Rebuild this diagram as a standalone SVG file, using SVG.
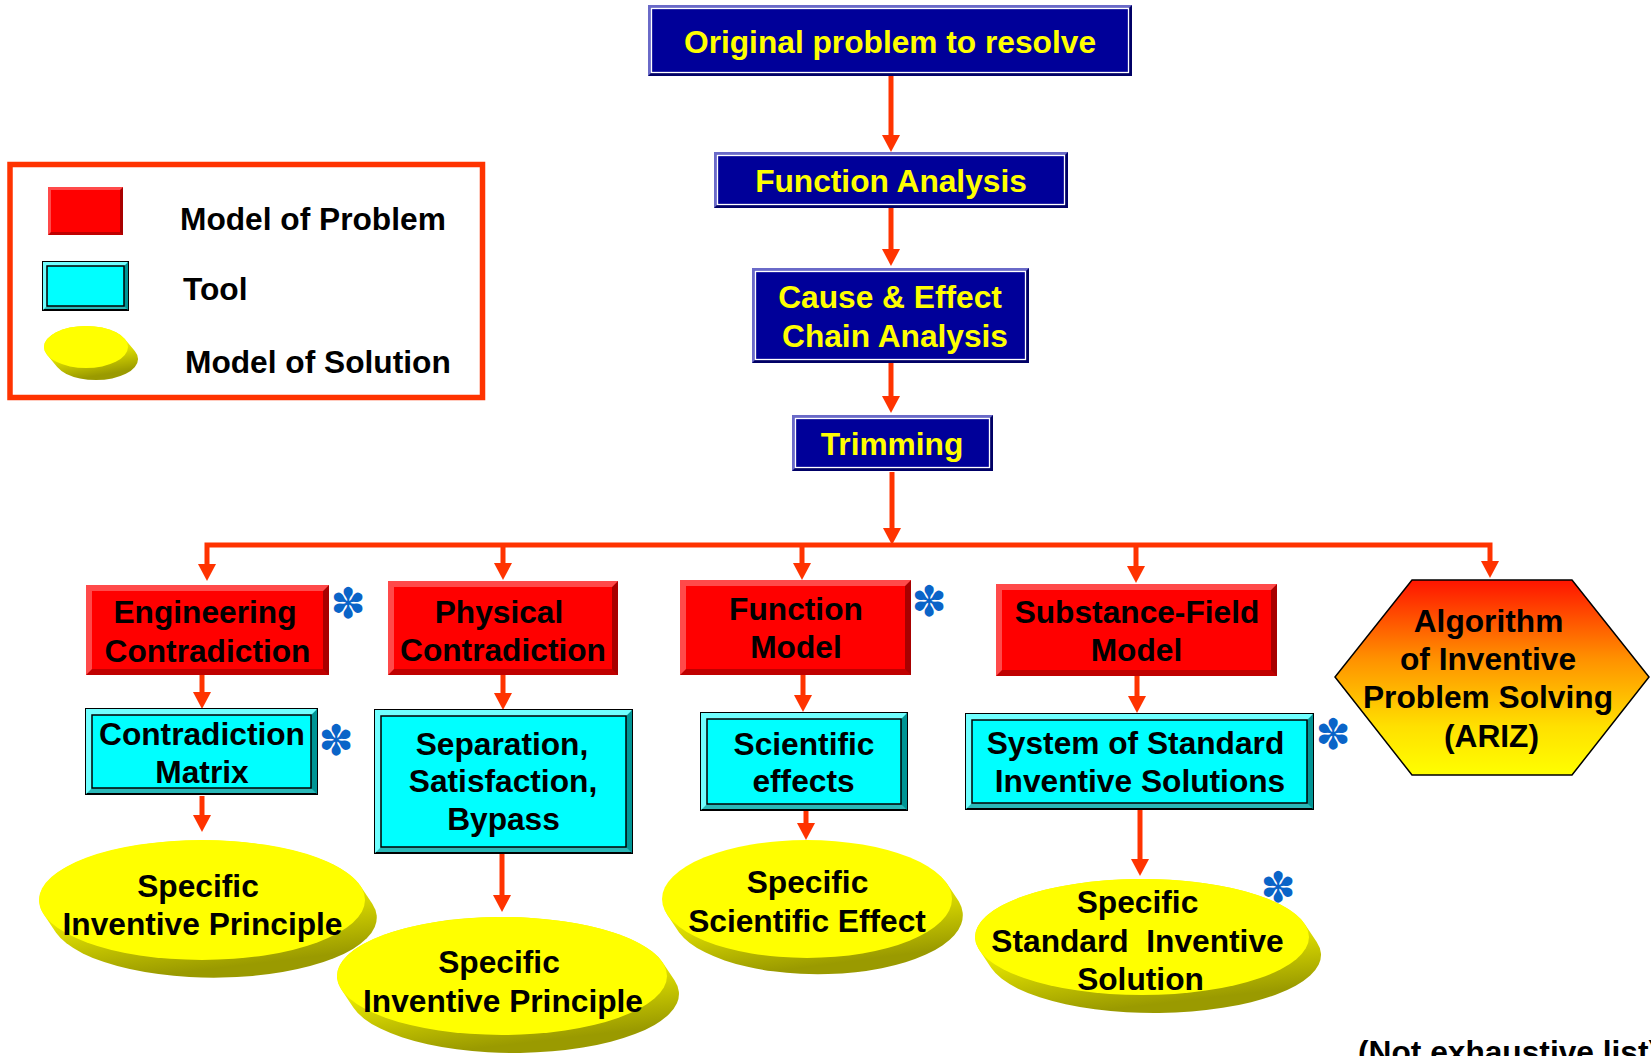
<svg xmlns="http://www.w3.org/2000/svg" width="1651" height="1056" viewBox="0 0 1651 1056">
<defs>
<style>
.t{font-family:"Liberation Sans",Arial,sans-serif;font-weight:bold;font-size:31.7px;text-anchor:middle}
.ty{fill:#ffff00}
.tk{fill:#000000}
.ls{text-anchor:start}
.ast{font-family:"DejaVu Sans",sans-serif;font-size:42px;fill:#0a64c8;text-anchor:middle}
.con{fill:none;stroke:#ff3300;stroke-width:5;marker-end:url(#ah)}
.bbase{fill:#000066}
.blight{fill:#6a6ac8}
.bin{fill:#000099;stroke:#ffffff;stroke-width:1.3}
.rbase{fill:#c00000}
.rright{fill:#a80000}
.rlight{fill:#ff4a4a}
.rin{fill:#ff0000}
.cbase{fill:#2ab8b8;stroke:#000;stroke-width:2}
.cright{fill:#009595}
.clight{fill:#70ffff}
.cin{fill:#00ffff;stroke:#000;stroke-width:1.5}
.ext{fill:url(#gExt)}
.top{fill:#ffff00}
</style>
<marker id="ah" viewBox="0 0 17 18" markerWidth="17" markerHeight="18" refX="5" refY="9" orient="auto-start-reverse" markerUnits="userSpaceOnUse">
<path d="M0,0 L17,9 L0,18 Z" fill="#ff3300"/>
</marker>
<linearGradient id="gExt" x1="0" y1="0" x2="0.3" y2="1">
<stop offset="0.5" stop-color="#f2f200"/>
<stop offset="1" stop-color="#9a9a00"/>
</linearGradient>
<linearGradient id="gHex" x1="0" y1="0" x2="0" y2="1">
<stop offset="0" stop-color="#ff1400"/>
<stop offset="0.4" stop-color="#ff9000"/>
<stop offset="0.75" stop-color="#ffe000"/>
<stop offset="1" stop-color="#ffff00"/>
</linearGradient>
</defs>
<rect width="1651" height="1056" fill="#ffffff"/>

<!-- Legend -->
<g id="legend">
<rect x="10" y="164.5" width="472.5" height="233" fill="none" stroke="#ff3300" stroke-width="5.5"/>
<rect class="rbase" x="48" y="187" width="75" height="48"/>
<polygon class="rright" points="123,187 123,235 120,232 120,190"/>
<polygon class="rlight" points="48,187 123,187 120,190 51,190 51,232 48,235"/>
<rect class="rin" x="51" y="190" width="69" height="42"/>
<rect class="cbase" x="43" y="262" width="85" height="48"/>
<polygon class="cright" points="128,262 128,310 124,306 124,266"/>
<polygon class="clight" points="43,262 128,262 124,266 47,266 47,306 43,310"/>
<rect class="cin" x="47" y="266" width="77" height="40"/>
<path class="ext" d="M124.8,338.9 L134.8,350.9 A42,21 0 0 1 57.2,367.1 L47.2,355.1 A42,21 0 0 1 124.8,338.9 Z"/>
<ellipse class="top" cx="86" cy="347" rx="42" ry="21"/>
<text class="t tk ls" x="180" y="230">Model of Problem</text>
<text class="t tk ls" x="183" y="300">Tool</text>
<text class="t tk ls" x="185" y="373">Model of Solution</text>
</g>

<!-- Connectors -->
<g id="connectors">
<path class="con" d="M891,76 V140"/>
<path class="con" d="M891,208 V254"/>
<path class="con" d="M891,363 V401"/>
<path class="con" d="M892,472 V533"/>
<path class="con" d="M207,569 V545 H1490 V566" style="marker-start:url(#ah)"/>
<path class="con" d="M503,545 V568"/>
<path class="con" d="M802,545 V568"/>
<path class="con" d="M1136,545 V571"/>
<path class="con" d="M202,675 V697"/>
<path class="con" d="M202,796 V820"/>
<path class="con" d="M503,675 V698"/>
<path class="con" d="M502,853 V900"/>
<path class="con" d="M803,675 V700"/>
<path class="con" d="M806,810 V828"/>
<path class="con" d="M1137,676 V701"/>
<path class="con" d="M1140,809 V864"/>
</g>

<!-- Blue boxes -->
<g id="n-original">
<rect class="bbase" x="648" y="5" width="484" height="71"/>
<polygon class="blight" points="648,5 1132,5 1128,9 652,9 652,72 648,76"/>
<rect class="bin" x="651.5" y="8.5" width="477" height="64"/>
<text class="t ty" x="890" y="53">Original problem to resolve</text>
</g>
<g id="n-function-analysis">
<rect class="bbase" x="714" y="152" width="354" height="56"/>
<polygon class="blight" points="714,152 1068,152 1064,156 718,156 718,204 714,208"/>
<rect class="bin" x="717.5" y="155.5" width="347" height="49"/>
<text class="t ty" x="891" y="192">Function Analysis</text>
</g>
<g id="n-cause-effect">
<rect class="bbase" x="752" y="268" width="277" height="95"/>
<polygon class="blight" points="752,268 1029,268 1025,272 756,272 756,359 752,363"/>
<rect class="bin" x="755.5" y="271.5" width="270" height="88"/>
<text class="t ty" x="890" y="308">Cause &amp; Effect</text>
<text class="t ty" x="895" y="347">Chain Analysis</text>
</g>
<g id="n-trimming">
<rect class="bbase" x="792" y="415" width="201" height="56"/>
<polygon class="blight" points="792,415 993,415 989,419 796,419 796,467 792,471"/>
<rect class="bin" x="795.5" y="418.5" width="194" height="49"/>
<text class="t ty" x="892" y="455">Trimming</text>
</g>

<!-- Red boxes -->
<g id="n-engineering-contradiction">
<rect class="rbase" x="86" y="585" width="243" height="90"/>
<polygon class="rright" points="329,585 329,675 323,669 323,591"/>
<polygon class="rlight" points="86,585 329,585 323,591 92,591 92,669 86,675"/>
<rect class="rin" x="92" y="591" width="231" height="78"/>
<text class="t tk" x="205" y="623">Engineering</text>
<text class="t tk" x="207.5" y="662">Contradiction</text>
</g>
<g id="n-physical-contradiction">
<rect class="rbase" x="388" y="581" width="230" height="94"/>
<polygon class="rright" points="618,581 618,675 612,669 612,587"/>
<polygon class="rlight" points="388,581 618,581 612,587 394,587 394,669 388,675"/>
<rect class="rin" x="394" y="587" width="218" height="82"/>
<text class="t tk" x="499" y="623">Physical</text>
<text class="t tk" x="503" y="661">Contradiction</text>
</g>
<g id="n-function-model">
<rect class="rbase" x="680" y="580" width="231" height="95"/>
<polygon class="rright" points="911,580 911,675 905,669 905,586"/>
<polygon class="rlight" points="680,580 911,580 905,586 686,586 686,669 680,675"/>
<rect class="rin" x="686" y="586" width="219" height="83"/>
<text class="t tk" x="796" y="620">Function</text>
<text class="t tk" x="796" y="658">Model</text>
</g>
<g id="n-substance-field">
<rect class="rbase" x="996" y="584" width="281" height="92"/>
<polygon class="rright" points="1277,584 1277,676 1271,670 1271,590"/>
<polygon class="rlight" points="996,584 1277,584 1271,590 1002,590 1002,670 996,676"/>
<rect class="rin" x="1002" y="590" width="269" height="80"/>
<text class="t tk" x="1137" y="623">Substance-Field</text>
<text class="t tk" x="1136.5" y="661">Model</text>
</g>

<!-- Cyan boxes -->
<g id="n-contradiction-matrix">
<rect class="cbase" x="86" y="709" width="231" height="85"/>
<polygon class="cright" points="317,709 317,794 311,788 311,715"/>
<polygon class="clight" points="86,709 317,709 311,715 92,715 92,788 86,794"/>
<rect class="cin" x="92" y="715" width="219" height="73"/>
<text class="t tk" x="202" y="745">Contradiction</text>
<text class="t tk" x="202" y="783">Matrix</text>
</g>
<g id="n-separation">
<rect class="cbase" x="375" y="710" width="257" height="143"/>
<polygon class="cright" points="632,710 632,853 626,847 626,716"/>
<polygon class="clight" points="375,710 632,710 626,716 381,716 381,847 375,853"/>
<rect class="cin" x="381" y="716" width="245" height="131"/>
<text class="t tk" x="502" y="755">Separation,</text>
<text class="t tk" x="503" y="792">Satisfaction,</text>
<text class="t tk" x="503.5" y="830">Bypass</text>
</g>
<g id="n-scientific-effects">
<rect class="cbase" x="701" y="713" width="206" height="97"/>
<polygon class="cright" points="907,713 907,810 901,804 901,719"/>
<polygon class="clight" points="701,713 907,713 901,719 707,719 707,804 701,810"/>
<rect class="cin" x="707" y="719" width="194" height="85"/>
<text class="t tk" x="804" y="755">Scientific</text>
<text class="t tk" x="803.5" y="792">effects</text>
</g>
<g id="n-system-standard">
<rect class="cbase" x="966" y="714" width="347" height="95"/>
<polygon class="cright" points="1313,714 1313,809 1307,803 1307,720"/>
<polygon class="clight" points="966,714 1313,714 1307,720 972,720 972,803 966,809"/>
<rect class="cin" x="972" y="720" width="335" height="83"/>
<text class="t tk" x="1135.5" y="754">System of Standard</text>
<text class="t tk" x="1140" y="792">Inventive Solutions</text>
</g>

<!-- Hexagon -->
<g id="n-ariz">
<polygon points="1412,580 1572,580 1649,677 1572,775 1412,775 1335,677" fill="url(#gHex)" stroke="#000" stroke-width="1.5"/>
<text class="t tk" x="1488.5" y="632">Algorithm</text>
<text class="t tk" x="1488" y="670">of Inventive</text>
<text class="t tk" x="1488" y="708">Problem Solving</text>
<text class="t tk" x="1491.5" y="747">(ARIZ)</text>
</g>

<!-- Ellipses -->
<g id="n-specific-inventive-principle-1">
<path class="ext" d="M360.3,885.7 L372.3,903.7 A163,60 0 0 1 55.7,932.3 L43.7,914.3 A163,60 0 0 1 360.3,885.7 Z"/>
<ellipse class="top" cx="202" cy="900" rx="163" ry="60"/>
<text class="t tk" x="198" y="897">Specific</text>
<text class="t tk" x="202.5" y="935">Inventive Principle</text>
</g>
<g id="n-specific-inventive-principle-2">
<path class="ext" d="M662.5,962.3 L674.5,980.3 A165,59 0 0 1 353.5,1007.7 L341.5,989.7 A165,59 0 0 1 662.5,962.3 Z"/>
<ellipse class="top" cx="502" cy="976" rx="165" ry="59"/>
<text class="t tk" x="499" y="973">Specific</text>
<text class="t tk" x="503" y="1012">Inventive Principle</text>
</g>
<g id="n-specific-scientific-effect">
<path class="ext" d="M946.9,883.6 L958.9,901.6 A145,59 0 0 1 679.1,932.4 L667.1,914.4 A145,59 0 0 1 946.9,883.6 Z"/>
<ellipse class="top" cx="807" cy="899" rx="145" ry="59"/>
<text class="t tk" x="807.5" y="893">Specific</text>
<text class="t tk" x="807" y="932">Scientific Effect</text>
</g>
<g id="n-specific-standard-solution">
<path class="ext" d="M1304.7,923.9 L1316.7,941.9 A167,58 0 0 1 991.3,968.1 L979.3,950.1 A167,58 0 0 1 1304.7,923.9 Z"/>
<ellipse class="top" cx="1142" cy="937" rx="167" ry="58"/>
<text class="t tk" x="1137.5" y="913">Specific</text>
<text class="t tk" x="1137.5" y="952" xml:space="preserve">Standard  Inventive</text>
<text class="t tk" x="1140.5" y="990">Solution</text>
</g>

<!-- Asterisks -->
<g id="asterisks">
<text class="ast" x="348" y="618">✽</text>
<text class="ast" x="336" y="755">✽</text>
<text class="ast" x="929" y="616">✽</text>
<text class="ast" x="1333" y="749">✽</text>
<text class="ast" x="1278" y="902">✽</text>
</g>

<text class="t tk ls" x="1358" y="1063">(Not exhaustive list)</text>
</svg>
